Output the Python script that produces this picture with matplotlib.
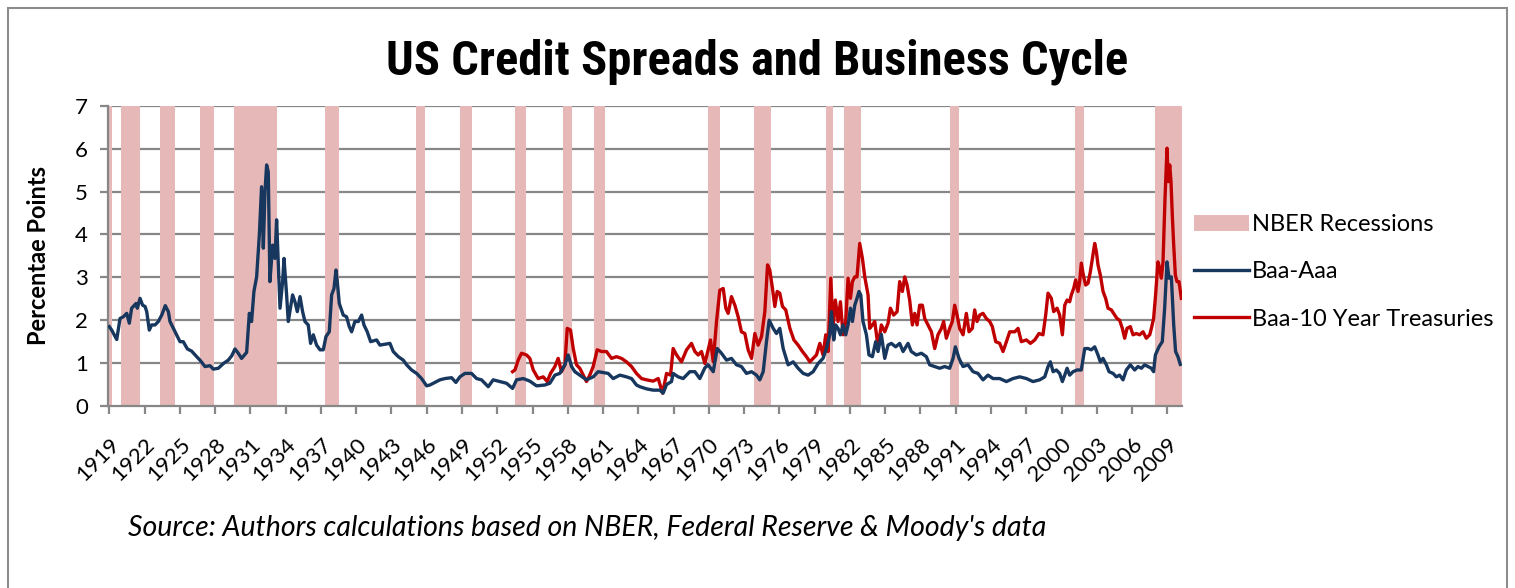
import numpy as np
import matplotlib
matplotlib.use("Agg")
import matplotlib.pyplot as plt
from matplotlib.patches import Patch, Rectangle
from matplotlib.lines import Line2D

# NBER recessions (start year, start month, end year, end month)
rec_start = [(1919, 1), (1920, 1), (1923, 5), (1926, 10), (1929, 8), (1937, 5),
             (1945, 2), (1948, 11), (1953, 7), (1957, 8), (1960, 4), (1969, 12),
             (1973, 11), (1980, 1), (1981, 7), (1990, 7), (2001, 3), (2007, 12)]
rec_end = [(1919, 3), (1921, 7), (1924, 7), (1927, 11), (1933, 3), (1938, 6),
           (1945, 10), (1949, 10), (1954, 5), (1958, 4), (1961, 2), (1970, 11),
           (1975, 3), (1980, 7), (1982, 11), (1991, 3), (2001, 11), (2010, 3)]

# Baa-Aaa spread (percentage points)
baa_aaa_t = [1919.00, 1919.20, 1919.63, 1919.91, 1920.19, 1920.48, 1920.70, 1920.90, 1921.27, 1921.38,
             1921.61, 1921.83, 1922.04, 1922.18, 1922.40, 1922.60, 1922.89, 1923.17, 1923.46, 1923.76,
             1924.02, 1924.16, 1924.59, 1925.01, 1925.29, 1925.64, 1926.00, 1926.43, 1926.71, 1927.14,
             1927.56, 1927.85, 1928.27, 1928.70, 1929.12, 1929.41, 1929.69, 1929.97, 1930.25, 1930.68,
             1930.91, 1931.10, 1931.30, 1931.53, 1931.76, 1931.95, 1932.10, 1932.24, 1932.38, 1932.52,
             1932.66, 1932.89, 1933.09, 1933.23, 1933.52, 1933.74, 1933.86, 1934.08, 1934.22, 1934.59,
             1934.79, 1934.99, 1935.22, 1935.44, 1935.64, 1935.92, 1936.12, 1936.35, 1936.63, 1936.92,
             1937.20, 1937.43, 1937.71, 1937.91, 1938.11, 1938.28, 1938.39, 1938.56, 1938.90, 1939.18,
             1939.41, 1939.61, 1939.89, 1940.18, 1940.46, 1940.66, 1940.94, 1941.23, 1941.73, 1942.02,
             1942.44, 1942.87, 1943.15, 1943.58, 1944.00, 1944.29, 1944.71, 1945.14, 1945.56, 1945.99,
             1946.27, 1946.70, 1947.12, 1947.55, 1948.11, 1948.48, 1948.82, 1949.25, 1949.81, 1950.24,
             1950.66, 1951.23, 1951.65, 1952.22, 1952.79, 1953.30, 1953.64, 1954.21, 1954.77, 1955.34,
             1956.05, 1956.47, 1956.90, 1957.32, 1957.75, 1958.03, 1958.32, 1958.60, 1959.02, 1959.59,
             1960.16, 1960.58, 1961.01, 1961.43, 1961.86, 1962.43, 1962.99, 1963.42, 1963.84, 1964.13,
             1964.70, 1965.26, 1965.83, 1966.11, 1966.40, 1966.82, 1966.96, 1967.39, 1967.81, 1968.38,
             1968.81, 1969.23, 1969.66, 1969.94, 1970.37, 1970.71, 1971.07, 1971.50, 1971.92, 1972.35,
             1972.77, 1973.20, 1973.63, 1974.05, 1974.33, 1974.62, 1974.90, 1975.13, 1975.47, 1975.75,
             1976.03, 1976.32, 1976.74, 1977.17, 1977.59, 1978.02, 1978.44, 1978.87, 1979.29, 1979.71,
             1980.00, 1980.28, 1980.42, 1980.62, 1980.79, 1980.99, 1981.19, 1981.41, 1981.64, 1981.84,
             1982.04, 1982.21, 1982.41, 1982.60, 1982.77, 1982.92, 1983.11, 1983.40, 1983.62, 1983.91,
             1984.19, 1984.39, 1984.67, 1984.96, 1985.24, 1985.52, 1985.89, 1986.23, 1986.52, 1986.94,
             1987.22, 1987.65, 1988.08, 1988.50, 1988.78, 1989.21, 1989.63, 1990.06, 1990.48, 1990.77,
             1990.97, 1991.28, 1991.62, 1992.04, 1992.47, 1992.89, 1993.32, 1993.74, 1994.17, 1994.74,
             1995.31, 1995.87, 1996.44, 1997.01, 1997.57, 1998.14, 1998.57, 1998.85, 1999.05, 1999.28,
             1999.56, 1999.84, 2000.07, 2000.27, 2000.47, 2000.69, 2000.98, 2001.32, 2001.68, 2001.97,
             2002.25, 2002.53, 2002.82, 2003.10, 2003.30, 2003.53, 2003.81, 2004.04, 2004.38, 2004.66,
             2004.94, 2005.23, 2005.51, 2005.85, 2006.22, 2006.50, 2006.79, 2007.07, 2007.35, 2007.64,
             2007.83, 2007.98, 2008.29, 2008.57, 2008.77, 2008.97, 2009.14, 2009.34, 2009.54, 2009.70,
             2009.90, 2010.10]
baa_aaa = [1.85, 1.77, 1.55, 2.04, 2.08, 2.16, 1.93, 2.28, 2.39, 2.28,
           2.51, 2.35, 2.32, 2.20, 1.77, 1.89, 1.89, 1.97, 2.12, 2.34,
           2.20, 1.97, 1.73, 1.50, 1.50, 1.33, 1.28, 1.15, 1.07, 0.92,
           0.94, 0.86, 0.88, 0.99, 1.07, 1.17, 1.33, 1.23, 1.11, 1.25,
           2.16, 1.97, 2.67, 3.01, 3.99, 5.11, 3.68, 5.00, 5.62, 5.46,
           2.90, 3.75, 3.44, 4.34, 2.28, 2.90, 3.44, 2.59, 1.97, 2.59,
           2.43, 2.20, 2.55, 2.20, 1.97, 1.89, 1.46, 1.66, 1.42, 1.31,
           1.31, 1.62, 1.73, 2.59, 2.74, 3.17, 2.90, 2.39, 2.12, 2.08,
           1.85, 1.73, 1.97, 1.97, 2.12, 1.89, 1.73, 1.50, 1.54, 1.42,
           1.44, 1.46, 1.27, 1.15, 1.07, 0.96, 0.84, 0.76, 0.64, 0.47,
           0.49, 0.55, 0.61, 0.64, 0.66, 0.55, 0.68, 0.76, 0.76, 0.64,
           0.61, 0.45, 0.61, 0.57, 0.53, 0.41, 0.61, 0.64, 0.58, 0.47,
           0.49, 0.53, 0.72, 0.76, 0.96, 1.19, 0.92, 0.80, 0.72, 0.61,
           0.68, 0.80, 0.78, 0.76, 0.64, 0.72, 0.68, 0.64, 0.49, 0.45,
           0.40, 0.37, 0.37, 0.30, 0.50, 0.57, 0.76, 0.68, 0.64, 0.80,
           0.80, 0.64, 0.89, 0.96, 0.80, 1.34, 1.23, 1.07, 1.11, 0.96,
           0.92, 0.76, 0.80, 0.72, 0.61, 0.80, 1.50, 2.00, 1.81, 1.69,
           1.81, 1.34, 0.96, 1.03, 0.88, 0.76, 0.72, 0.80, 0.99, 1.11,
           1.34, 1.66, 2.20, 1.54, 1.89, 1.81, 1.66, 1.89, 1.66, 1.89,
           2.28, 1.97, 2.35, 2.51, 2.67, 2.59, 1.97, 1.66, 1.19, 1.15,
           1.50, 1.27, 1.67, 1.11, 1.42, 1.46, 1.38, 1.46, 1.27, 1.46,
           1.27, 1.19, 1.23, 1.15, 0.96, 0.92, 0.88, 0.92, 0.88, 1.11,
           1.38, 1.11, 0.92, 0.96, 0.80, 0.76, 0.61, 0.72, 0.64, 0.64,
           0.57, 0.64, 0.68, 0.64, 0.57, 0.61, 0.68, 0.92, 1.03, 0.80,
           0.84, 0.76, 0.57, 0.72, 0.88, 0.72, 0.80, 0.84, 0.84, 1.34,
           1.34, 1.31, 1.38, 1.19, 1.03, 1.11, 0.96, 0.80, 0.76, 0.68,
           0.72, 0.61, 0.84, 0.96, 0.84, 0.92, 0.88, 0.96, 0.92, 0.88,
           0.80, 1.19, 1.38, 1.50, 2.28, 3.36, 2.98, 3.01, 1.89, 1.27,
           1.15, 0.97]

# Baa-10 year Treasury spread (percentage points)
baa_tsy_t = [1953.30, 1953.50, 1953.78, 1954.06, 1954.49, 1954.77, 1955.06, 1955.48, 1955.91, 1956.25,
             1956.53, 1956.90, 1957.18, 1957.46, 1957.75, 1957.95, 1958.23, 1958.46, 1958.74, 1959.02,
             1959.31, 1959.59, 1959.87, 1960.16, 1960.50, 1960.87, 1961.29, 1961.72, 1962.14, 1962.57,
             1962.99, 1963.42, 1963.84, 1964.27, 1964.70, 1965.26, 1965.69, 1966.06, 1966.40, 1966.74,
             1966.96, 1967.25, 1967.67, 1968.10, 1968.52, 1968.81, 1969.09, 1969.37, 1969.66, 1970.14,
             1970.37, 1970.65, 1970.93, 1971.22, 1971.44, 1971.64, 1971.92, 1972.21, 1972.49, 1972.77,
             1973.06, 1973.34, 1973.63, 1973.91, 1974.19, 1974.48, 1974.76, 1974.99, 1975.18, 1975.41,
             1975.61, 1975.81, 1976.03, 1976.26, 1976.54, 1976.89, 1977.23, 1977.59, 1977.96, 1978.30,
             1978.59, 1978.87, 1979.15, 1979.44, 1979.71, 1979.94, 1980.14, 1980.37, 1980.56, 1980.76,
             1980.99, 1981.19, 1981.41, 1981.64, 1981.84, 1982.04, 1982.21, 1982.41, 1982.60, 1982.83,
             1983.06, 1983.26, 1983.54, 1983.68, 1983.91, 1984.11, 1984.39, 1984.67, 1984.96, 1985.24,
             1985.44, 1985.72, 1986.01, 1986.23, 1986.46, 1986.66, 1986.86, 1987.08, 1987.31, 1987.51,
             1987.71, 1987.93, 1988.16, 1988.36, 1988.64, 1988.93, 1989.21, 1989.49, 1989.78, 1989.97,
             1990.20, 1990.48, 1990.71, 1990.91, 1991.11, 1991.33, 1991.62, 1991.90, 1992.13, 1992.41,
             1992.61, 1992.81, 1993.04, 1993.32, 1993.60, 1993.89, 1994.11, 1994.40, 1994.74, 1995.02,
             1995.31, 1995.59, 1996.02, 1996.30, 1996.58, 1997.01, 1997.35, 1997.72, 1998.08, 1998.42,
             1998.65, 1998.85, 1999.13, 1999.33, 1999.62, 1999.84, 2000.07, 2000.27, 2000.47, 2000.69,
             2000.83, 2001.03, 2001.20, 2001.40, 2001.54, 2001.68, 2001.88, 2002.05, 2002.25, 2002.45,
             2002.62, 2002.82, 2002.96, 2003.10, 2003.30, 2003.53, 2003.75, 2003.95, 2004.24, 2004.52,
             2004.72, 2004.94, 2005.17, 2005.37, 2005.57, 2005.85, 2006.08, 2006.36, 2006.64, 2006.93,
             2007.21, 2007.50, 2007.64, 2007.83, 2008.00, 2008.20, 2008.35, 2008.49, 2008.63, 2008.80,
             2008.97, 2009.08, 2009.20, 2009.31, 2009.42, 2009.54, 2009.68, 2009.82, 2009.99, 2010.19]
baa_tsy = [0.80, 0.84, 1.07, 1.23, 1.19, 1.11, 0.84, 0.64, 0.68, 0.57,
           0.76, 0.92, 1.11, 0.80, 0.96, 1.81, 1.77, 1.34, 0.96, 0.88,
           0.72, 0.57, 0.72, 0.92, 1.31, 1.27, 1.27, 1.11, 1.15, 1.11,
           1.03, 0.92, 0.76, 0.64, 0.61, 0.58, 0.64, 0.30, 0.76, 0.72,
           1.34, 1.19, 1.03, 1.31, 1.46, 1.27, 1.19, 1.27, 0.99, 1.54,
           1.03, 1.97, 2.70, 2.74, 2.28, 2.16, 2.55, 2.35, 2.08, 1.73,
           1.69, 1.31, 1.11, 1.69, 1.42, 1.62, 2.20, 3.29, 3.17, 2.74,
           2.32, 2.67, 2.63, 2.32, 2.24, 1.81, 1.54, 1.42, 1.27, 1.15,
           1.03, 1.11, 1.19, 1.46, 1.19, 1.66, 1.27, 2.98, 1.81, 2.47,
           1.97, 2.43, 1.66, 1.97, 2.98, 2.51, 2.90, 3.01, 3.01, 3.79,
           3.44, 3.01, 2.59, 1.81, 1.89, 1.97, 1.38, 1.89, 1.73, 1.93,
           2.28, 2.12, 2.20, 2.90, 2.67, 3.01, 2.82, 2.47, 1.89, 2.16,
           1.89, 2.35, 2.35, 2.04, 1.89, 1.73, 1.34, 1.66, 1.81, 1.97,
           1.58, 1.81, 1.97, 2.35, 2.12, 1.81, 1.66, 2.16, 1.73, 1.81,
           2.24, 1.97, 2.12, 2.16, 2.04, 1.97, 1.85, 1.50, 1.46, 1.27,
           1.50, 1.73, 1.73, 1.81, 1.50, 1.54, 1.46, 1.54, 1.69, 1.66,
           2.12, 2.63, 2.51, 2.20, 2.28, 2.12, 1.66, 2.35, 2.47, 2.43,
           2.59, 2.74, 2.94, 2.67, 2.90, 3.33, 3.01, 2.82, 2.86, 3.13,
           3.44, 3.79, 3.60, 3.29, 3.05, 2.67, 2.51, 2.28, 2.24, 2.12,
           2.04, 2.00, 1.81, 1.58, 1.81, 1.85, 1.66, 1.69, 1.66, 1.73,
           1.58, 1.66, 1.81, 2.04, 2.59, 3.36, 3.21, 2.98, 3.36, 4.84,
           6.01, 5.23, 5.62, 5.23, 4.45, 3.75, 3.05, 2.90, 2.90, 2.51]

year_ticks = list(range(1919, 2010, 3))

navy = "#17375E"
red = "#C00000"
pink = "#E6B9B8"
grid_gray = "#878787"

fig = plt.figure(figsize=(15.15, 5.88), dpi=100)
ax = fig.add_axes([0.071, 0.3095, 0.709, 0.5107])

# recession shading, one column per month like the Excel original
months = []
for (y0, m0), (y1, m1) in zip(rec_start, rec_end):
    k0 = y0 * 12 + m0 - 1
    k1 = y1 * 12 + m1 - 1
    months.extend(k / 12.0 for k in range(k0, k1 + 1))
ax.bar(months, 7, width=1.0 / 12, align="edge", color=pink, linewidth=0, zorder=1)

for v in range(1, 8):
    ax.axhline(v, color=grid_gray, lw=1.6, zorder=0.5)

ax.plot(baa_aaa_t, baa_aaa, color=navy, lw=2.4, zorder=3, solid_joinstyle="round")
ax.plot(baa_tsy_t, baa_tsy, color=red, lw=2.4, zorder=2.5, solid_joinstyle="round")

ax.set_xlim(1918.85, 2010.22)
ax.set_ylim(0, 7)
ax.set_xticks(year_ticks)
ax.set_xticklabels([str(y) for y in year_ticks], rotation=45, ha="right",
                   rotation_mode="anchor", fontsize=16, family="Lato")
ax.set_yticks(range(0, 8))
ax.set_yticklabels([str(v) for v in range(0, 8)], fontsize=16, family="Lato")
ax.tick_params(axis="both", colors=grid_gray, length=6, width=1.6, labelcolor="black")
ax.tick_params(axis="x", pad=14)
ax.tick_params(axis="y", pad=8)
for s in ["top", "right"]:
    ax.spines[s].set_visible(False)
for s in ["left", "bottom"]:
    ax.spines[s].set_color(grid_gray)
    ax.spines[s].set_linewidth(1.6)

ax.set_ylabel("Percentae Points", fontsize=17, fontweight="bold", family="Lato", labelpad=18)

fig.text(0.5, 0.895, "US Credit Spreads and Business Cycle", ha="center", va="center",
         fontsize=35, fontweight="bold",
         family=["Liberation Sans Narrow", "Roboto Condensed", "DejaVu Sans"])

fig.text(0.0845, 0.102, "Source: Authors calculations based on NBER, Federal Reserve & Moody's data",
         ha="left", va="center", fontsize=20.5, style="italic", family="Lato")

handles = [Patch(facecolor=pink, edgecolor="none"),
           Line2D([], [], color=navy, lw=2.4),
           Line2D([], [], color=red, lw=2.4)]
labels = ["NBER Recessions", "Baa-Aaa", "Baa-10 Year Treasuries"]
fig.legend(handles, labels, loc="upper left", bbox_to_anchor=(0.7743, 0.672),
           frameon=False, prop={"family": "Lato", "size": 17},
           handlelength=2.3, handletextpad=0.15, labelspacing=1.11)

# chart-area border
fig.add_artist(Rectangle((8 / 1515, -0.05), 1499 / 1515, 1.0 - 8 / 588 + 0.05,
                         transform=fig.transFigure, fill=False, edgecolor="#8c8c8c",
                         lw=1.5))

fig.savefig("out.png", dpi=100)
